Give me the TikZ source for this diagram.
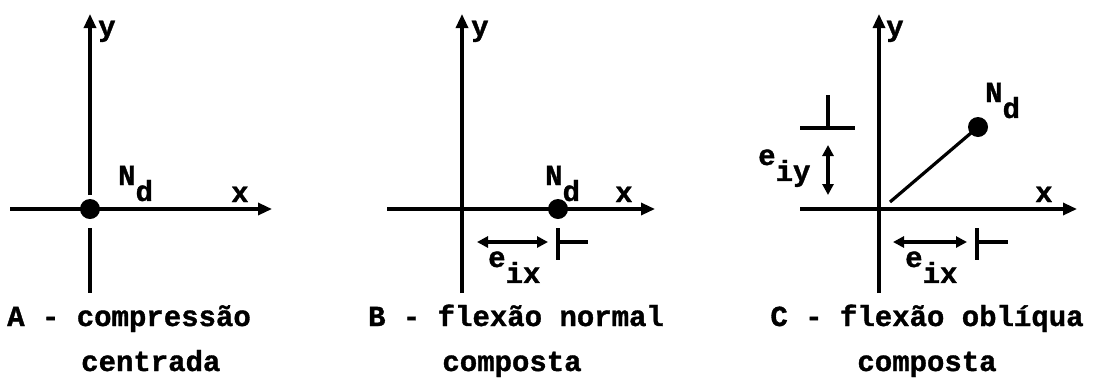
\documentclass[tikz,border=0pt]{standalone}
\usepackage{fontspec}
\setmainfont[BoldFeatures={FakeBold=1.2}]{Liberation Mono}
\usetikzlibrary{arrows.meta}
\newcommand\lowered[1]{\raisebox{-0.55em}{#1}}
\begin{document}
\begin{tikzpicture}[x=1pt,y=-1pt,
  ax/.style={line width=3.2pt,-{Triangle[length=14pt,width=12pt]}},
  ln/.style={line width=3.2pt},
  dimarrow/.style={line width=3.2pt,{Triangle[length=11pt,width=11pt]}-{Triangle[length=11pt,width=11pt]}},
  dot/.style={circle,fill,inner sep=0pt,minimum size=20pt},
  lbl/.style={font=\fontsize{29}{31}\selectfont\bfseries,inner sep=0pt,anchor=base west},
  captext/.style={font=\fontsize{29}{31}\selectfont\bfseries,inner sep=0pt,anchor=base},
]
\useasboundingbox (0,0) rectangle (1094,384);

% ---------- Panel A ----------
\coordinate (Aytop) at (90,14);
\coordinate (Ayg1) at (90,195);
\coordinate (Ayg2) at (90,228);
\coordinate (Aybot) at (90,293);
\coordinate (Axl) at (10,209);
\coordinate (Axr) at (272,209);
\draw[ax] (Ayg1) -- (Aytop);
\draw[ln] (Ayg2) -- (Aybot);
\draw[ax] (Axl) -- (Axr);
\node[dot] (Adot) at (90,209) {};
\node[lbl] (Aylab) at (98,36) {y};
\node[lbl] (Axlab) at (231,202) {x};
\node[lbl] (ANd) at (118,185) {N\lowered{d}};
\node[captext,anchor=base west] (Acap1) at (7,326) {A - compressão};
\node[captext,anchor=base west] (Acap2) at (81,371) {centrada};

% ---------- Panel B ----------
\coordinate (Bytop) at (462,14);
\coordinate (Bybot) at (462,293);
\coordinate (Bxl) at (387,209);
\coordinate (Bxr) at (655,209);
\draw[ax] (Bybot) -- (Bytop);
\draw[ax] (Bxl) -- (Bxr);
\node[dot] (Bdot) at (558,209) {};
\node[lbl] (Bylab) at (471,36) {y};
\node[lbl] (Bxlab) at (615,202) {x};
\node[lbl] (BNd) at (545,185) {N\lowered{d}};
\coordinate (Bd1) at (477,242);
\coordinate (Bd2) at (548,242);
\draw[dimarrow] (Bd1) -- (Bd2);
\coordinate (Bt1) at (558,228);
\coordinate (Bt2) at (558,260);
\coordinate (Bt3) at (558,242);
\coordinate (Bt4) at (588,242);
\draw[ln] (Bt1) -- (Bt2);
\draw[ln] (Bt3) -- (Bt4);
\node[lbl] (Beix) at (488,267) {e\lowered{ix}};
\node[captext] (Bcap1) at (516,326) {B - flexão normal};
\node[captext] (Bcap2) at (512,371) {composta};

% ---------- Panel C ----------
\coordinate (Cytop) at (879,14);
\coordinate (Cybot) at (879,293);
\coordinate (Cxl) at (800,209);
\coordinate (Cxr) at (1077,209);
\draw[ax] (Cybot) -- (Cytop);
\draw[ax] (Cxl) -- (Cxr);
\node[dot] (Cdot) at (978,127) {};
\coordinate (Cls) at (890,202);
\draw[ln] (Cls) -- (Cdot.center);
\node[lbl] (Cylab) at (886,36) {y};
\node[lbl] (Cxlab) at (1035,202) {x};
\node[lbl] (CNd) at (985,102) {N\lowered{d}};
% e_ix
\coordinate (Cd1) at (893,242);
\coordinate (Cd2) at (967,242);
\draw[dimarrow] (Cd1) -- (Cd2);
\coordinate (Ct1) at (977,228);
\coordinate (Ct2) at (977,260);
\coordinate (Ct3) at (977,242);
\coordinate (Ct4) at (1008,242);
\draw[ln] (Ct1) -- (Ct2);
\draw[ln] (Ct3) -- (Ct4);
\node[lbl] (Ceix) at (905,267) {e\lowered{ix}};
% e_iy
\coordinate (Cv1) at (828,145);
\coordinate (Cv2) at (828,195);
\draw[dimarrow] (Cv1) -- (Cv2);
\coordinate (Cu1) at (828,95);
\coordinate (Cu2) at (828,128);
\coordinate (Cu3) at (800,128);
\coordinate (Cu4) at (855,128);
\draw[ln] (Cu1) -- (Cu2);
\draw[ln] (Cu3) -- (Cu4);
\node[lbl] (Ceiy) at (758,165) {e\lowered{iy}};
\node[captext] (Ccap1) at (927,326) {C - flexão oblíqua};
\node[captext] (Ccap2) at (927,371) {composta};
\end{tikzpicture}
\end{document}
